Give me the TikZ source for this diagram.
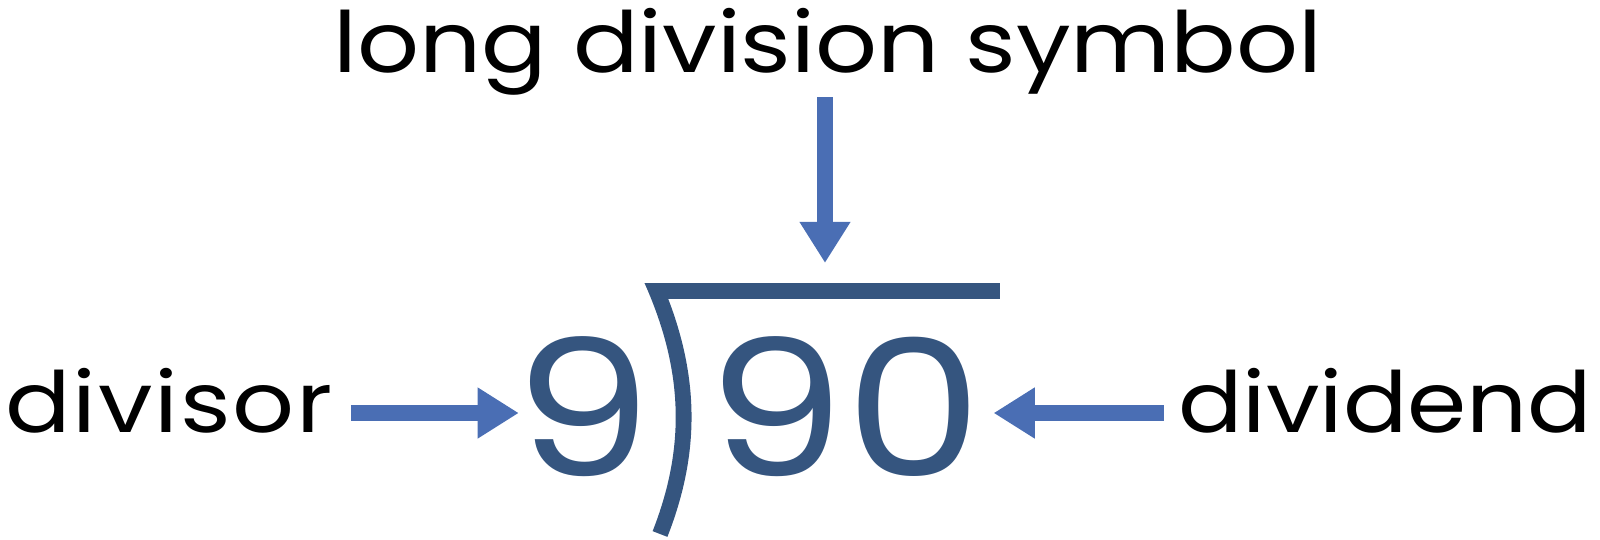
\documentclass[tikz,border=0pt]{standalone}
\usepackage{fontspec}
\setmainfont{Poppins}
\usetikzlibrary{arrows.meta}
\definecolor{arrowblue}{HTML}{4A6EB4}
\definecolor{symblue}{HTML}{35557F}

\begin{document}
\begin{tikzpicture}[x=0.01cm, y=-0.01cm,
    lbl/.style={inner sep=0pt, font=\fontsize{24}{28}\selectfont\addfontfeature{FakeStretch=1.15}},
    digit/.style={inner sep=0pt, text=symblue, font=\fontsize{54}{60}\selectfont\addfontfeature{FakeStretch=1.15}},
    arr/.style={draw=arrowblue, line width=4.5pt, -{Triangle[width=13.7pt, length=11.7pt]}},
    bracket/.style={draw=symblue, line width=4.5pt}]
    \useasboundingbox (0, 0) rectangle (1600, 539);
    \node[lbl, anchor=base] (title) at (828, 72) {long division symbol};
    \node[lbl, anchor=base west] (divisor) at (5, 432) {\addfontfeature{LetterSpace=2}divisor};
    \node[lbl, anchor=base east] (dividend) at (1593, 432) {\addfontfeature{FakeStretch=1.13}dividend};
    \node[digit, anchor=base] (nine) at (583, 476) {9};
    \node[digit, anchor=base] (ninety) at (845, 476) {90};
    \coordinate (bartop) at (825, 283);
    \begin{scope}
      \clip (600, 283) rectangle (1010, 539);
      \draw[bracket] (653, 291) -- (1000, 291);
      \draw[bracket] (650, 276) .. controls (693, 370) and (693, 450) .. (660, 534);
    \end{scope}
    \draw[arr, shorten <=0.5pt, shorten >=5.7pt] (title.south -| bartop) -- (bartop);
    \draw[arr, shorten <=5pt, shorten >=-1.5pt] (divisor.east |- 0, 413) -- (nine.west |- 0, 413);
    \draw[arr, shorten <=4pt, shorten >=3pt] (dividend.west |- 0, 413) -- (ninety.east |- 0, 413);
  \end{tikzpicture}
\end{document}
